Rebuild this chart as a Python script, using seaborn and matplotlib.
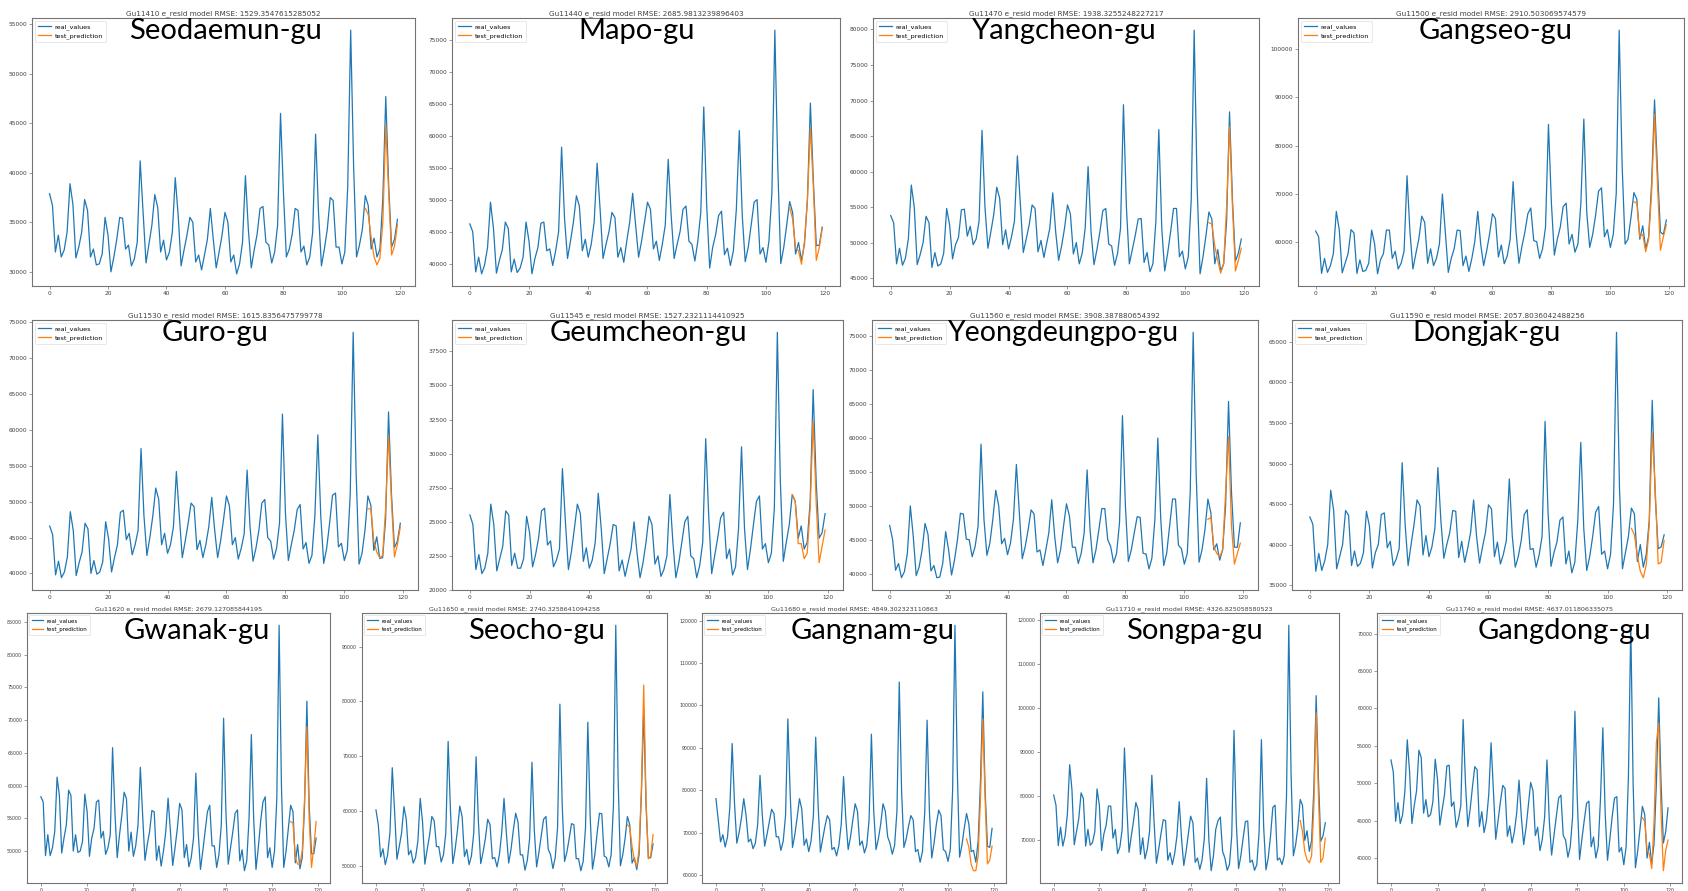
import matplotlib
matplotlib.use("Agg")
import matplotlib.pyplot as plt
import seaborn as sns

# ---- data -------------------------------------------------------------
districts = ["Seodaemun-gu", "Mapo-gu", "Yangcheon-gu", "Gangseo-gu",
             "Guro-gu", "Geumcheon-gu", "Yeongdeungpo-gu", "Dongjak-gu",
             "Gwanak-gu", "Seocho-gu", "Gangnam-gu", "Songpa-gu", "Gangdong-gu"]
gu_codes = ["11410", "11440", "11470", "11500", "11530", "11545", "11560",
            "11590", "11620", "11650", "11680", "11710", "11740"]
rmse = ["1529.3547615285052", "2685.9813239896403", "1938.3255248227217",
        "2910.503069574579", "1615.8356475799778", "1527.2321114410925",
        "3908.387880654392", "2057.8036042488256", "2679.127085844195",
        "2740.3258641094258", "4849.302323110863", "4326.825058580523",
        "4637.011806335075"]

months = list(range(120))
test_months = list(range(108, 120))

seodaemun_real = [
    37900, 36700, 32000, 33700, 31500, 32200, 34000, 38900, 36800, 31400, 32500, 34000,
    37300, 36200, 31500, 32300, 30700, 30800, 31800, 35500, 33700, 30000, 31500, 33300,
    35500, 35400, 32300, 32700, 30600, 31300, 33000, 41200, 36000, 30900, 32800, 34700,
    37800, 36500, 32000, 33200, 31200, 32000, 34000, 39500, 35700, 30600, 32200, 33700,
    35500, 35000, 31000, 31700, 30200, 31700, 33300, 36400, 33300, 30400, 32000, 33700,
    36000, 35000, 31000, 31700, 29800, 30800, 33000, 39700, 34300, 30400, 32200, 33800,
    36400, 36600, 33000, 32700, 30900, 32000, 34700, 46000, 38000, 31500, 32300, 33800,
    36400, 36200, 32000, 32600, 30700, 31500, 34000, 43900, 36000, 30600, 32300, 34300,
    37500, 37200, 32500, 32500, 30800, 32000, 38700, 54400, 40700, 31500, 32700, 34300,
    37700, 36700, 32300, 33400, 31500, 32300, 37400, 47700, 38700, 32500, 33300, 35300]
seodaemun_pred = [36400, 35800, 33500, 31500, 30700, 31400, 35000, 44800, 38000, 31700, 32600, 34800]

mapo_real = [
    46200, 45000, 38700, 41000, 38400, 39800, 42500, 49600, 45500, 38500, 40500, 42200,
    46500, 45500, 38700, 40700, 38600, 39300, 41000, 46500, 43500, 38400, 40800, 42500,
    46300, 46500, 42000, 42300, 39700, 42000, 45000, 58200, 47000, 40800, 43500, 46500,
    50600, 49000, 42000, 43800, 41000, 43000, 46500, 55700, 48500, 40800, 43000, 45000,
    48000, 47200, 41000, 42500, 40200, 43500, 46500, 51000, 46000, 41000, 43500, 46500,
    49600, 48500, 42300, 43500, 40500, 43000, 46000, 56300, 47500, 40800, 43000, 45000,
    48500, 49000, 43500, 43000, 40400, 43500, 48000, 64500, 49000, 39300, 42500, 44500,
    47500, 48200, 41400, 42400, 39700, 42000, 48500, 60800, 47500, 40300, 42500, 46000,
    49600, 50000, 41500, 42500, 40200, 43500, 51000, 76500, 55000, 40000, 42500, 46000,
    49700, 48000, 41500, 43300, 40500, 43000, 50000, 65100, 53000, 42800, 42900, 45700]
mapo_pred = [48800, 47000, 42500, 42000, 39900, 43500, 50000, 61300, 52000, 40500, 42500, 45500]

yangcheon_real = [
    53800, 52800, 47000, 49200, 46800, 47800, 50500, 58100, 55000, 46900, 48300, 50000,
    53700, 52800, 46500, 48600, 46700, 47000, 48500, 54800, 52500, 47700, 49700, 50700,
    54600, 54700, 50900, 52300, 49700, 50500, 53000, 65800, 55000, 49200, 51500, 54000,
    57800, 56200, 49700, 51800, 49100, 50800, 53000, 62200, 55500, 48600, 50500, 52500,
    55300, 54800, 48700, 50300, 47900, 50000, 52000, 57000, 51500, 47500, 49500, 52000,
    55300, 54000, 48400, 50000, 47000, 48500, 52000, 60700, 51500, 46900, 49000, 51500,
    54500, 54800, 49800, 49500, 46800, 48500, 52000, 69400, 55000, 47000, 49000, 51000,
    53300, 53400, 47200, 48600, 45900, 47000, 53000, 65900, 52000, 46000, 48500, 51500,
    54800, 54800, 48000, 48800, 46300, 48000, 56000, 79900, 58000, 45600, 48000, 51000,
    54300, 53300, 47000, 49000, 46000, 47000, 53000, 68400, 56000, 47400, 48500, 50500]
yangcheon_pred = [52800, 52600, 49500, 47500, 45700, 47000, 55000, 66300, 55000, 46000, 47500, 49200]

gangseo_real = [
    62200, 61000, 53400, 56500, 53600, 55000, 57500, 66300, 62500, 53500, 55500, 57500,
    62500, 61800, 53400, 56200, 53800, 54000, 55500, 62400, 59500, 53300, 56200, 57500,
    62400, 62400, 56500, 58000, 54300, 55500, 58000, 73700, 62000, 54300, 57500, 60500,
    65300, 64000, 55500, 58500, 55000, 56500, 59500, 69900, 62000, 53600, 56500, 58500,
    62400, 62300, 55000, 57000, 53800, 56500, 60000, 66300, 59500, 55000, 58000, 61500,
    65800, 64800, 56800, 59300, 55400, 57000, 60500, 72500, 62000, 55500, 59000, 62000,
    65800, 67000, 60200, 60000, 56500, 58500, 63000, 84400, 68000, 57200, 60500, 63000,
    67300, 68000, 59500, 61500, 57800, 59500, 68000, 85500, 66000, 58800, 61500, 65500,
    70500, 71200, 61000, 62500, 58800, 61500, 70000, 104000, 76000, 59500, 60500, 65000,
    70200, 68800, 60500, 63300, 58500, 61000, 72000, 89500, 75000, 62000, 61500, 64500]
gangseo_pred = [68300, 68000, 61000, 61500, 57900, 60500, 70000, 86500, 72000, 58200, 61000, 63500]

guro_real = [
    46600, 45400, 39800, 41700, 39400, 40200, 42300, 48600, 46000, 39700, 41500, 43000,
    47000, 46200, 40000, 41800, 39900, 40200, 41600, 47200, 44800, 40200, 42200, 44000,
    48500, 48800, 44700, 45600, 42600, 44000, 46000, 57400, 48000, 42500, 45000, 48000,
    51900, 50300, 44000, 45600, 42800, 44000, 46500, 54200, 48000, 42200, 44500, 47000,
    49800, 49300, 43300, 44600, 42200, 44000, 46500, 50600, 46000, 42200, 44500, 47500,
    50800, 49400, 44000, 45000, 42000, 43500, 45500, 54400, 46500, 41700, 43500, 46000,
    49800, 50300, 45000, 44500, 42000, 43500, 47000, 62200, 48500, 41800, 44000, 46000,
    48900, 49600, 43400, 44300, 41400, 42500, 48000, 59300, 48000, 41400, 43500, 47000,
    50900, 51200, 43700, 44200, 41800, 43200, 51000, 73600, 54000, 41300, 42800, 46000,
    50800, 49500, 43200, 45100, 42100, 42200, 47500, 62500, 51000, 43600, 44500, 47000]
guro_pred = [49000, 49000, 44500, 43000, 42200, 42500, 49000, 59200, 50000, 42300, 44000, 46500]

geumcheon_real = [
    25500, 24800, 21500, 22600, 21200, 21600, 22700, 26300, 24800, 21400, 22300, 23200,
    25800, 25500, 21800, 22700, 21600, 21600, 22300, 25400, 24200, 21700, 22600, 23800,
    25800, 26000, 23300, 23600, 21700, 22200, 23000, 28900, 25000, 21500, 22800, 24500,
    26300, 25600, 22100, 23100, 21600, 22200, 23500, 27100, 24500, 21200, 22300, 23400,
    24800, 24700, 21400, 22200, 21000, 22000, 23000, 25000, 22700, 20900, 22000, 23500,
    25400, 24800, 21900, 22500, 21000, 21500, 22500, 27000, 23500, 20900, 22000, 23500,
    25000, 25400, 22500, 22300, 20900, 21800, 23500, 31100, 25500, 21200, 22500, 23800,
    25300, 25700, 22300, 23000, 21100, 21700, 24500, 30500, 24500, 21500, 23000, 24800,
    26500, 26900, 23000, 23400, 22000, 22700, 26000, 38900, 28000, 22100, 23500, 24800,
    27000, 26500, 23800, 24700, 23000, 23500, 26500, 34700, 28000, 23800, 24200, 25600]
geumcheon_pred = [27000, 26500, 23400, 23400, 22300, 22700, 26000, 32400, 26500, 22000, 23200, 24400]

yeongdeungpo_real = [
    47100, 45000, 40500, 41500, 39400, 40300, 43000, 50000, 45500, 39700, 41000, 43500,
    47400, 45800, 40400, 41200, 39400, 39500, 41500, 46200, 43500, 39800, 42000, 45000,
    48900, 48800, 45100, 45000, 42500, 44000, 47000, 59100, 48000, 42700, 44500, 48000,
    52300, 50000, 44400, 45200, 42800, 44500, 48000, 56100, 49000, 42200, 44000, 46500,
    49400, 48800, 43200, 43500, 41200, 43500, 46000, 50900, 45500, 41600, 43500, 47000,
    50300, 48500, 43900, 43900, 41500, 43000, 46000, 55300, 46500, 41600, 43500, 46500,
    49600, 49600, 45000, 44000, 41600, 43000, 47500, 63300, 50000, 41800, 43500, 46000,
    48400, 48300, 43000, 42900, 40700, 42300, 48000, 60000, 48000, 41200, 43000, 47000,
    51000, 51000, 44200, 43700, 41400, 43000, 52000, 75600, 55000, 41700, 43500, 46500,
    51000, 49000, 43500, 44400, 42000, 43500, 50000, 65400, 52000, 43900, 43900, 47500]
yeongdeungpo_pred = [48000, 48300, 44000, 43000, 42500, 43500, 52000, 60200, 47000, 41400, 43000, 44500]

dongjak_real = [
    43400, 42500, 36700, 38900, 36800, 38000, 40000, 46700, 44200, 37000, 38500, 40000,
    44200, 43600, 37400, 39200, 37300, 37700, 39000, 44100, 42300, 37100, 39000, 40000,
    43700, 43900, 39600, 40400, 37400, 38200, 39500, 50100, 42500, 37400, 40000, 42500,
    45500, 44800, 38700, 41100, 38500, 39700, 42000, 49500, 43000, 38300, 40000, 41500,
    44200, 44100, 38400, 40400, 37800, 39500, 41500, 45500, 41000, 37700, 39700, 41500,
    44900, 44400, 38500, 40300, 37600, 38800, 40500, 48100, 41000, 37200, 38500, 40500,
    43700, 44300, 39400, 39500, 37200, 38700, 41000, 55200, 44000, 37300, 39000, 40300,
    43000, 43400, 37600, 39200, 36500, 37800, 43000, 52600, 42000, 36800, 38500, 41000,
    44000, 44700, 38800, 39200, 37000, 38800, 45000, 66200, 47000, 37000, 39000, 41000,
    44500, 43800, 37900, 40000, 37200, 38800, 43000, 57800, 46000, 39500, 39700, 41200]
dongjak_pred = [42000, 41200, 38600, 36700, 35900, 37500, 42500, 53800, 47000, 37600, 37800, 40500]

gwanak_real = [
    58300, 57500, 49300, 52500, 49300, 50500, 53000, 61300, 58500, 49700, 52000, 54000,
    59300, 58500, 50000, 52500, 49800, 50000, 51500, 58700, 56000, 49200, 52000, 53500,
    57500, 57800, 52000, 53000, 49500, 50500, 52500, 65800, 56000, 49000, 52500, 55500,
    59000, 58000, 50000, 52900, 49200, 50800, 54000, 62800, 55500, 48600, 51000, 53000,
    56200, 56000, 48600, 50800, 47700, 50000, 53000, 58100, 53000, 47800, 50500, 53500,
    57300, 56300, 49000, 51000, 47600, 49000, 52000, 61900, 53000, 47200, 50000, 53000,
    56000, 57000, 50800, 50800, 47500, 49500, 54000, 70300, 56000, 48000, 50500, 53000,
    55800, 56300, 48500, 50200, 47000, 48500, 55000, 67800, 55000, 47200, 50500, 54500,
    57500, 58300, 49000, 50500, 47500, 50000, 58000, 84500, 60000, 47500, 50000, 53500,
    57000, 56000, 48200, 51000, 47300, 49000, 57000, 72900, 57000, 49600, 49600, 52000]
gwanak_pred = [54500, 54300, 49000, 48000, 48000, 50000, 58000, 69000, 55000, 47500, 50500, 54500]

seocho_real = [
    60200, 57500, 51600, 53100, 50200, 52000, 56000, 67900, 60000, 51200, 53500, 56000,
    60800, 58500, 52000, 52800, 50500, 51500, 54500, 62300, 58000, 50300, 53000, 55500,
    59000, 58200, 53500, 53500, 50700, 52000, 56000, 72700, 60000, 50400, 53000, 56500,
    60900, 59000, 51700, 53000, 50200, 51800, 56000, 69900, 58000, 50400, 52500, 55000,
    58500, 57500, 51300, 51500, 49800, 52000, 56000, 62300, 56000, 50500, 53000, 56500,
    59600, 58000, 52000, 52000, 49200, 51000, 55000, 68900, 56500, 49800, 52500, 55500,
    58500, 59000, 53000, 52000, 49500, 51500, 57000, 79500, 61000, 50800, 52500, 55000,
    57700, 57500, 51300, 51300, 49100, 50800, 57000, 76200, 59000, 49400, 52000, 56000,
    59600, 59500, 51800, 51500, 49800, 52000, 61000, 93900, 66000, 50000, 52000, 55000,
    59000, 57500, 50500, 51500, 49300, 52000, 63000, 78500, 61000, 51400, 51500, 54000]
seocho_pred = [57500, 57000, 53500, 51000, 49900, 53000, 64000, 83000, 62000, 51300, 51800, 55700]

gangnam_real = [
    78000, 73000, 67800, 69500, 66600, 69000, 76000, 91000, 77000, 67500, 70000, 73500,
    78000, 74000, 67800, 68500, 66200, 67500, 72000, 83500, 74000, 66800, 69500, 72500,
    75500, 74500, 69000, 69000, 65800, 68000, 74000, 96800, 79000, 66500, 69500, 73500,
    78000, 75500, 67000, 68500, 65500, 68000, 74000, 92500, 77000, 65400, 68500, 71500,
    74000, 73000, 66000, 66500, 64500, 67000, 72000, 83200, 73000, 66000, 69000, 73000,
    76800, 75000, 67000, 68000, 65200, 67000, 73000, 93200, 75000, 66000, 68500, 72000,
    76800, 75000, 69000, 67500, 64900, 67000, 75000, 105500, 80000, 66500, 68500, 71500,
    74000, 73000, 65500, 66000, 63000, 65500, 75000, 96500, 75000, 64000, 67500, 72000,
    75300, 74000, 66000, 65500, 63200, 66000, 80000, 118900, 85000, 64200, 67000, 71000,
    74500, 72000, 65500, 65800, 63000, 68000, 82000, 103200, 80000, 66800, 66500, 71000]
gangnam_pred = [68500, 66500, 62500, 61000, 61000, 64500, 78000, 96800, 78000, 62600, 63500, 66800]

songpa_real = [
    80300, 78000, 68800, 73000, 68700, 71000, 76000, 87200, 81500, 69000, 72000, 75000,
    80800, 79500, 68700, 72500, 68900, 69500, 72000, 81700, 78000, 67700, 71500, 73500,
    77800, 77800, 70500, 72500, 67000, 68500, 72500, 91000, 78000, 67300, 71000, 74500,
    78600, 77000, 66800, 70600, 65800, 68000, 72000, 84800, 74000, 64800, 68000, 71500,
    74700, 74500, 65500, 67200, 64500, 67000, 71000, 78800, 70500, 64300, 67500, 71500,
    75500, 74000, 65000, 66000, 63400, 65500, 70500, 84100, 70000, 63100, 66500, 72500,
    74500, 75300, 67500, 66000, 63200, 64500, 71000, 95000, 74000, 63600, 66500, 70500,
    74300, 74400, 65000, 65500, 63200, 64500, 72000, 92900, 73000, 63300, 66000, 71000,
    77500, 78000, 65500, 66000, 64500, 66500, 80000, 118900, 85000, 66500, 69000, 73000,
    79300, 78000, 70000, 72200, 67500, 70000, 82000, 102900, 84000, 69800, 71000, 74000]
songpa_pred = [74500, 72000, 67500, 65600, 64900, 66500, 78000, 99000, 80000, 65000, 66000, 70500]

gangdong_real = [
    53100, 51500, 44900, 47400, 44600, 45800, 49000, 55800, 51500, 44600, 47000, 49000,
    54400, 53400, 46000, 47800, 45500, 45800, 47500, 53200, 50500, 44400, 46500, 48500,
    52300, 52400, 46900, 47500, 44100, 45200, 47000, 58500, 50000, 44200, 46500, 49500,
    52200, 51800, 44200, 46200, 43400, 45000, 48500, 55400, 49000, 42500, 45000, 47500,
    49700, 49300, 42900, 44300, 42000, 43500, 46000, 50400, 45500, 41800, 44000, 47000,
    50100, 49000, 43000, 44100, 41000, 42500, 45500, 53100, 45000, 40400, 43000, 45500,
    48000, 48400, 43000, 42400, 40100, 41500, 45500, 59600, 48000, 39800, 42500, 45000,
    47300, 47600, 41500, 42800, 40000, 41500, 48000, 57400, 46000, 39700, 42500, 45500,
    48000, 48200, 40800, 41400, 39100, 41500, 51000, 71100, 50000, 38700, 41000, 44000,
    46900, 45800, 40000, 42100, 39200, 42000, 50000, 61400, 50000, 42000, 43500, 46700]
gangdong_pred = [45400, 44900, 41000, 40500, 38600, 45000, 55500, 58000, 46000, 38300, 41000, 42400]

real_series = [seodaemun_real, mapo_real, yangcheon_real, gangseo_real,
               guro_real, geumcheon_real, yeongdeungpo_real, dongjak_real,
               gwanak_real, seocho_real, gangnam_real, songpa_real, gangdong_real]
pred_series = [seodaemun_pred, mapo_pred, yangcheon_pred, gangseo_pred,
               guro_pred, geumcheon_pred, yeongdeungpo_pred, dongjak_pred,
               gwanak_pred, seocho_pred, gangnam_pred, songpa_pred, gangdong_pred]

# ---- layout (pixel boxes: left, top, right, bottom) ---------------------
W, H = 1688, 891
boxes = [
    (32, 18, 415, 286), (452, 18, 840, 286), (873, 18, 1259, 286), (1298, 18, 1684, 286),
    (32, 320, 418, 590), (452, 320, 843, 590), (872, 320, 1258, 590), (1292, 320, 1682, 590),
    (27, 613, 330, 883), (362, 613, 667, 883), (702, 613, 1006, 883),
    (1040, 613, 1339, 883), (1377, 613, 1682, 883),
]
# centre of the district caption in each panel (pixels)
captions = [
    (225, 31), (637, 31), (1063, 31), (1496, 31),
    (215, 333), (648, 333), (1064, 333), (1487, 333),
    (197, 631), (536, 631), (873, 631), (1194, 631), (1564, 631),
]
ytick_steps = [5000, 5000, 5000, 10000, 5000, 2500, 5000, 5000,
               5000, 10000, 10000, 10000, 5000]

BLUE = "#1f77b4"
ORANGE = "#ff7f0e"
FRAME = "0.45"

fig = plt.figure(figsize=(W / 100, H / 100), dpi=100)
fig.patch.set_facecolor("white")

for i, (l, t, r, b) in enumerate(boxes):
    ax = fig.add_axes([l / W, 1 - b / H, (r - l) / W, (b - t) / H])
    small = i >= 8
    sns.lineplot(x=months, y=real_series[i], ax=ax, color=BLUE,
                 linewidth=0.9, label="real_values")
    sns.lineplot(x=test_months, y=pred_series[i], ax=ax, color=ORANGE,
                 linewidth=0.9, label="test_prediction")
    ax.set_xlim(-6, 125)
    ax.set_xticks(range(0, 121, 20))
    ax.yaxis.set_major_locator(matplotlib.ticker.MultipleLocator(ytick_steps[i]))
    ax.tick_params(labelsize=3.4 if small else 4.2, length=2, width=0.5,
                   color=FRAME, labelcolor="0.25", pad=1.5)
    for sp in ax.spines.values():
        sp.set_color(FRAME)
        sp.set_linewidth(0.8)
    ax.set_xlabel("")
    ax.set_ylabel("")
    ax.set_title(f"Gu{gu_codes[i]} e_resid model RMSE: {rmse[i]}",
                 fontsize=4.6 if small else 5.2, color="0.25", pad=2)
    leg = ax.legend(loc="upper left", fontsize=4.0 if small else 4.6,
                    handlelength=2.0, borderpad=0.5, labelspacing=0.5,
                    handletextpad=0.6, borderaxespad=0.4, frameon=True)
    leg.get_frame().set_linewidth(0.4)
    cx, cy = captions[i]
    fig.text(cx / W, 1 - cy / H, districts[i], ha="center", va="center",
             fontsize=20.5 if districts[i] == "Yeongdeungpo-gu" else 21,
             family=["Lato", "DejaVu Sans"], color="black")

fig.savefig("out.png", dpi=100, facecolor="white")
